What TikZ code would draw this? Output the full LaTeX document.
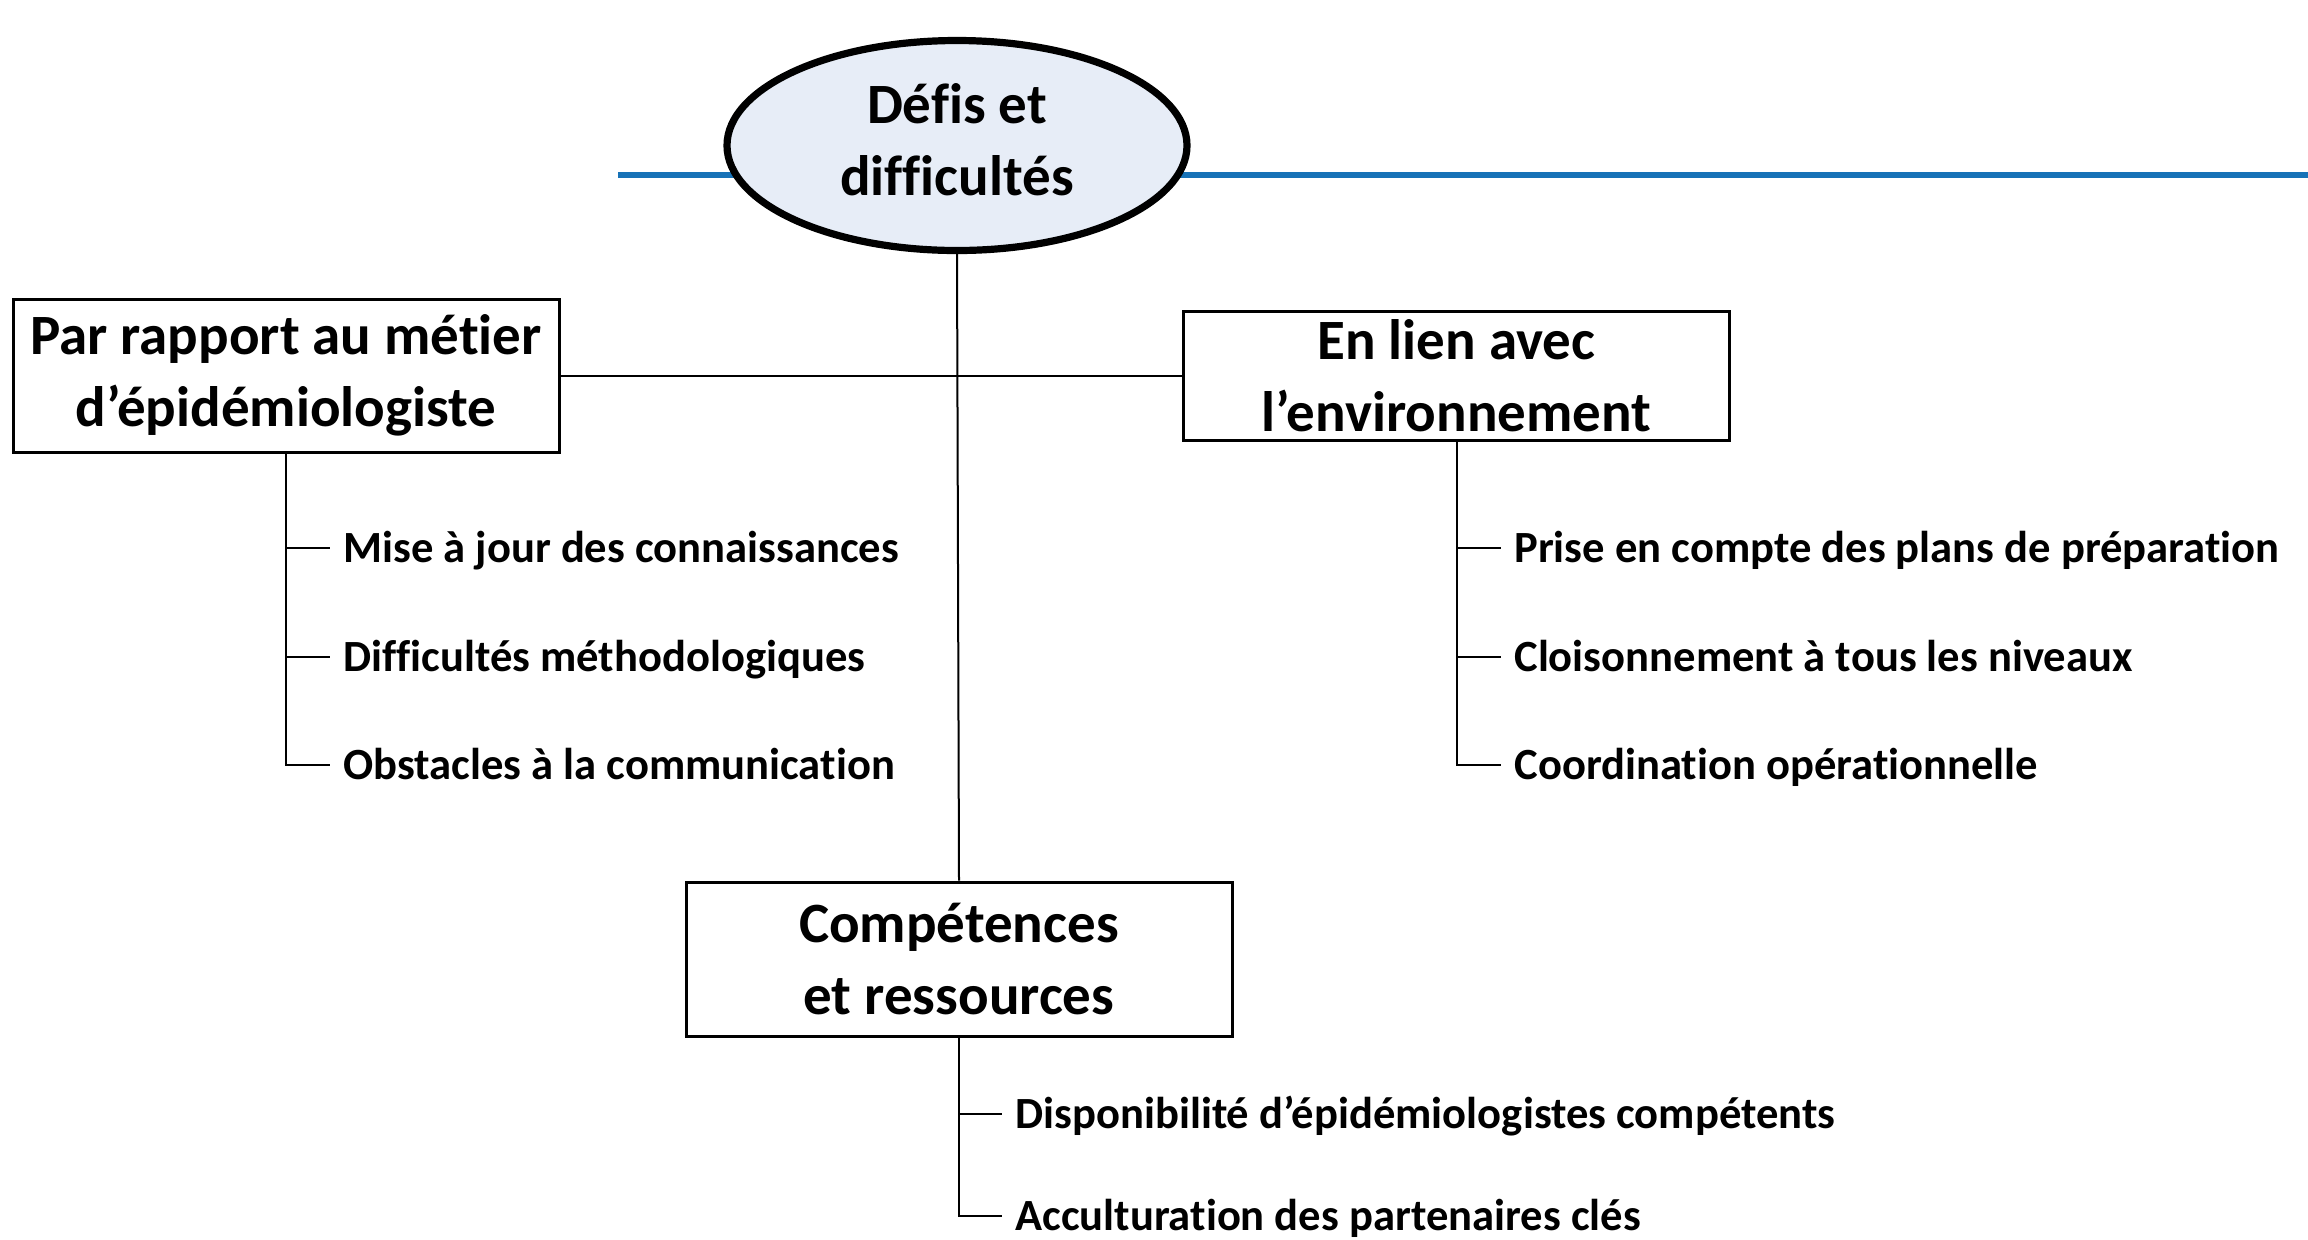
\documentclass[tikz,border=0pt]{standalone}
\usepackage{fontspec}
\setmainfont{Carlito}[Ligatures=NoCommon]
\usetikzlibrary{shapes.geometric}
\definecolor{blueline}{RGB}{23,114,183}
\definecolor{ellfill}{RGB}{231,237,247}
\begin{document}
\begin{tikzpicture}[x=0.5pt,y=-0.5pt,
  titlefont/.style={font=\fontsize{28.5}{36}\selectfont\bfseries,align=center},
  titlebox/.style={draw,line width=1.5pt,minimum width=273pt,inner sep=0pt,titlefont},
  item/.style={anchor=west,inner ysep=0pt,inner xsep=6.5pt,text height=16.3pt,text depth=2.2pt,
    font=\fontsize{22.3}{26}\selectfont\bfseries},
  conn/.style={line width=1pt},
]
\useasboundingbox (0,0) rectangle (2308,1239);
\coordinate (bl1) at (618,175);
\coordinate (bl2) at (2308,175);
\draw[blueline,line width=3.2pt] (bl1) -- (bl2);
\node[ellipse,draw,line width=3.6pt,fill=ellfill,minimum width=230pt,minimum height=105pt,inner sep=0pt] (E) at (957,145.5) {};
\node[titlefont,inner sep=0pt] (Et) at ([yshift=3pt]E.center) {Défis et\\difficultés};
\node[titlebox,minimum height=76.5pt] (L) at (286,375.5) {Par rapport au métier\\d’épidémiologiste};
\node[titlebox,minimum height=64.5pt] (R) at (1456.5,375.5) {En lien avec\\l’environnement};
\node[titlebox,minimum height=77pt] (B) at (959,959) {Compétences\\et ressources};
\draw[conn] (E.south) -- (B.north);
\draw[conn] (L.east) -- (R.west);
% left items
\node[item] (l1) at (330,548) {Mise à jour des connaissances};
\node[item] (l2) at (330,657) {Difficultés méthodologiques};
\node[item] (l3) at (330,765) {Obstacles à la communication};
\draw[conn] (L.south) |- (l1.west);
\draw[conn] (L.south) |- (l2.west);
\draw[conn] (L.south) |- (l3.west);
% right items
\node[item] (r1) at (1501,548) {Prise en compte des plans de préparation};
\node[item] (r2) at (1501,657) {Cloisonnement à tous les niveaux};
\node[item] (r3) at (1501,765) {Coordination opérationnelle};
\draw[conn] (R.south) |- (r1.west);
\draw[conn] (R.south) |- (r2.west);
\draw[conn] (R.south) |- (r3.west);
% bottom items
\node[item] (b1) at (1002,1114) {Disponibilité d’épidémiologistes compétents};
\node[item] (b2) at (1002,1216) {Acculturation des partenaires clés};
\draw[conn] (B.south) |- (b1.west);
\draw[conn] (B.south) |- (b2.west);
\end{tikzpicture}
\end{document}
